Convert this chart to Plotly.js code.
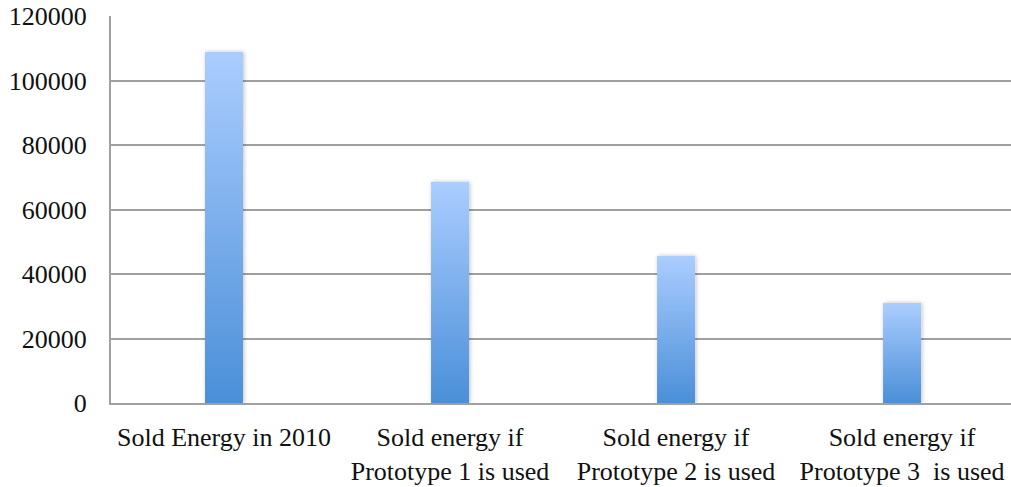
<!DOCTYPE html>
<html>
<head>
<meta charset="utf-8">
<script src="https://cdn.plot.ly/plotly-3.0.1.min.js"></script>
<style>html,body{margin:0;padding:0;background:#fff;}#chart{width:1011px;height:487px;}</style>
</head>
<body>
<div id="chart"></div>
<script>
const categories = [
  "Sold Energy in 2010",
  "Sold energy if<br>Prototype 1 is used",
  "Sold energy if<br>Prototype 2 is used",
  "Sold energy if<br>Prototype 3\u00a0 is used"
];
const soldEnergy = [108800, 68500, 45600, 31000];
const yTickValues = [0, 20000, 40000, 60000, 80000, 100000, 120000];
const yTickLabels = ["0", "20000", "40000", "60000", "80000", "100000", "120000"];

const font = {family: "Liberation Serif, Times New Roman, serif", size: 26, color: "#111"};

const trace = {
  type: "bar",
  x: [0, 1, 2, 3],
  y: soldEnergy,
  width: 0.168,
  marker: {color: "#7aaee9", line: {width: 0}},
  hoverinfo: "none"
};

const layout = {
  width: 1011, height: 487,
  margin: {l: 111, r: 0, t: 16, b: 84, pad: 0},
  paper_bgcolor: "#fff", plot_bgcolor: "#fff",
  showlegend: false,
  font: font,
  xaxis: {
    range: [-0.5, 3.482],
    tickmode: "array", tickvals: [0, 1, 2, 3], ticktext: categories,
    showgrid: false, zeroline: false,
    showline: true, linecolor: "#a0a0a0", linewidth: 2,
    ticks: "", ticklabelstandoff: 10,
    tickfont: font, fixedrange: true
  },
  yaxis: {
    range: [0, 120000],
    tickmode: "array", tickvals: yTickValues, ticktext: yTickLabels,
    showgrid: true, gridcolor: "#a0a0a0", gridwidth: 2,
    zeroline: false,
    showline: true, linecolor: "#a0a0a0", linewidth: 2,
    ticks: "", ticklabelstandoff: 17,
    tickfont: font, fixedrange: true
  }
};

Plotly.newPlot("chart", [trace], layout, {staticPlot: true}).then(function(gd){
  const svgNS = "http://www.w3.org/2000/svg";
  const svg = gd.querySelector("svg.main-svg");
  const defs = document.createElementNS(svgNS, "defs");
  defs.innerHTML =
    '<linearGradient id="barGrad" x1="0" y1="0" x2="0" y2="1">' +
      '<stop offset="0" stop-color="#abcdff"/>' +
      '<stop offset="1" stop-color="#4a8fd8"/>' +
    '</linearGradient>' +
    '<filter id="barShadow" x="-30%" y="-10%" width="160%" height="120%">' +
      '<feDropShadow dx="1" dy="0" stdDeviation="2" flood-color="#000" flood-opacity="0.25"/>' +
    '</filter>';
  svg.insertBefore(defs, svg.firstChild);
  gd.querySelectorAll(".barlayer .point path").forEach(function(p){
    p.style.fill = "url(#barGrad)";
    p.style.filter = "url(#barShadow)";
  });
});
</script>
</body>
</html>
